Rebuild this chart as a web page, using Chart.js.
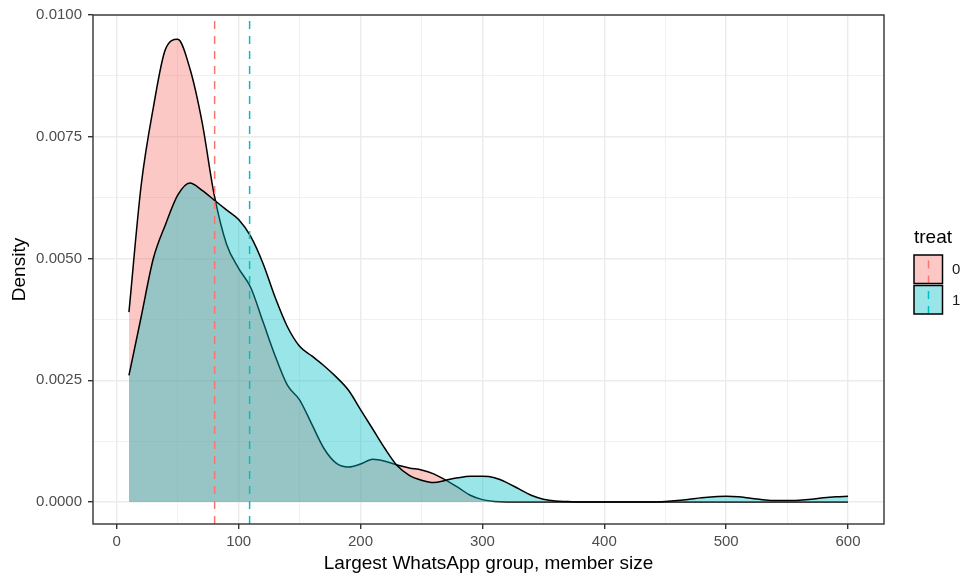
<!DOCTYPE html>
<html lang="en">
<head>
<meta charset="UTF-8">
<title>Density of largest WhatsApp group</title>
<script src="https://cdn.jsdelivr.net/npm/chart.js"></script>
<style>
    html, body { margin: 0; padding: 0; background: #fff; }
    #wrap { width: 964px; height: 575px; position: relative; }
</style>
</head>
<body>
<div id="wrap"><canvas id="densityChart"></canvas></div>
<script>
const sizes = [10, 20, 30, 40, 50, 60, 70, 80, 90, 100,
    110, 120, 130, 140, 150, 160, 170, 180, 190, 200,
    210, 220, 230, 240, 250, 260, 270, 280, 290, 300,
    310, 320, 330, 340, 350, 360, 370, 380, 390, 400,
    410, 420, 430, 440, 450, 460, 470, 480, 490, 500,
    510, 520, 530, 540, 550, 560, 570, 580, 590, 600];

// treat = 0
const densityTreat0 = [0.0039, 0.0065, 0.0081, 0.0093, 0.0095, 0.0089, 0.0078, 0.0063, 0.0053, 0.0048,
    0.0044, 0.0037, 0.0030, 0.0024, 0.0021, 0.0016, 0.0011, 0.0008, 0.00072, 0.00078,
    0.00088, 0.00084, 0.00076, 0.00070, 0.00066, 0.00058, 0.00045, 0.00030, 0.00014, 0.00005,
    0.00001, 0, 0, 0, 0, 0, 0, 0, 0, 0,
    0, 0, 0, 0, 0, 0, 0, 0, 0, 0,
    0, 0, 0, 0, 0, 0, 0, 0, 0, 0];

// treat = 1
const densityTreat1 = [0.0026, 0.0038, 0.0050, 0.0057, 0.0063, 0.00655, 0.0064, 0.0062, 0.0060, 0.0058,
    0.00545, 0.0049, 0.0042, 0.0036, 0.0032, 0.0030, 0.0028, 0.00257, 0.0023, 0.0019,
    0.0015, 0.0011, 0.00075, 0.00055, 0.00045, 0.00040, 0.00045, 0.00050, 0.00053, 0.00053,
    0.00050, 0.00040, 0.00027, 0.00014, 0.00006, 0.00002, 0.00001, 0, 0, 0,
    0, 0, 0, 0, 0.00001, 0.00003, 0.00006, 0.00009, 0.00011, 0.00012,
    0.00011, 0.00008, 0.00005, 0.00003, 0.00003, 0.00004, 0.00006, 0.00009, 0.00011, 0.00012];

// group means (dashed lines)
const groupLabels = ['0', '1'];
const groupMeans = [80.3, 109];

const xTicksMajor = [0, 100, 200, 300, 400, 500, 600];
const xTicksMinor = [50, 150, 250, 350, 450, 550];
const yTicksMajor = [0, 0.0025, 0.005, 0.0075, 0.01];
const yTicksMinor = [0.00125, 0.00375, 0.00625, 0.00875];

const xMin = -19.5, xMax = 629.5;
const yMin = -0.00045, yMax = 0.0100;

const colRed = '#F8766D', colTeal = '#00BFC4';
const fillRed = 'rgba(248,118,109,0.4)', fillTeal = 'rgba(0,191,196,0.4)';
const FONT = '"Liberation Sans", Arial, Helvetica, sans-serif';
const DASH = [8, 7];

const toPoints = (ys) => sizes.map((s, i) => ({ x: s, y: ys[i] }));
const vline = (m) => [{ x: m, y: yMin }, { x: m, y: yMax }];

const isMajor = (list, v) => list.some(t => Math.abs(t - v) < 1e-9);

const gridFor = (major) => ({
    color: '#EBEBEB',
    lineWidth: (c) => c.tick && isMajor(major, c.tick.value) ? 1.4 : 0.7,
    tickColor: (c) => c.tick && isMajor(major, c.tick.value) ? '#333333' : 'rgba(0,0,0,0)',
    tickWidth: 1.4,
    tickLength: 5,
    drawTicks: true
});

const frameAndLegend = {
    id: 'frameAndLegend',
    afterDraw(chart) {
        const { ctx, chartArea: a } = chart;
        ctx.save();
        ctx.strokeStyle = '#333333';
        ctx.lineWidth = 1.4;
        ctx.strokeRect(a.left, a.top, a.right - a.left, a.bottom - a.top);

        // legend
        ctx.fillStyle = '#000';
        ctx.font = '19px ' + FONT;
        ctx.textBaseline = 'middle';
        ctx.textAlign = 'left';
        ctx.fillText('treat', 914, 238);
        const fills = [fillRed, fillTeal], lines = [colRed, colTeal];
        groupLabels.forEach((lab, i) => {
            const top = 255 + i * 30.5;
            ctx.fillStyle = '#fff';
            ctx.fillRect(914, top, 28.5, 28.5);
            ctx.fillStyle = fills[i];
            ctx.fillRect(914, top, 28.5, 28.5);
            ctx.setLineDash(DASH);
            ctx.strokeStyle = lines[i];
            ctx.lineWidth = 1.5;
            ctx.beginPath();
            ctx.moveTo(928.5, top + 28.5);
            ctx.lineTo(928.5, top);
            ctx.stroke();
            ctx.setLineDash([]);
            ctx.strokeStyle = '#000';
            ctx.lineWidth = 1.5;
            ctx.strokeRect(914, top, 28.5, 28.5);
            ctx.fillStyle = '#1a1a1a';
            ctx.font = '15px ' + FONT;
            ctx.fillText(lab, 952, top + 15);
        });
        ctx.restore();
    }
};

new Chart(document.getElementById('densityChart'), {
    type: 'line',
    data: {
        datasets: [
            {
                label: 'mean 0', data: vline(groupMeans[0]), borderColor: colRed,
                borderWidth: 1.5, borderDash: DASH, pointRadius: 0, fill: false, order: 0
            },
            {
                label: 'mean 1', data: vline(groupMeans[1]), borderColor: colTeal,
                borderWidth: 1.5, borderDash: DASH, pointRadius: 0, fill: false, order: 0
            },
            {
                label: '1', data: toPoints(densityTreat1), borderColor: '#000',
                backgroundColor: fillTeal, borderWidth: 1.5, pointRadius: 0,
                fill: 'origin', tension: 0.4, cubicInterpolationMode: 'monotone', order: 1
            },
            {
                label: '0', data: toPoints(densityTreat0), borderColor: '#000',
                backgroundColor: fillRed, borderWidth: 1.5, pointRadius: 0,
                fill: 'origin', tension: 0.4, cubicInterpolationMode: 'monotone', order: 2
            }
        ]
    },
    options: {
        responsive: true,
        maintainAspectRatio: false,
        animation: false,
        layout: { padding: { top: 15, right: 80, left: 0, bottom: 0 } },
        plugins: { legend: { display: false }, tooltip: { enabled: false } },
        scales: {
            x: {
                type: 'linear', min: xMin, max: xMax,
                afterBuildTicks: (axis) => {
                    axis.ticks = xTicksMajor.concat(xTicksMinor).sort((a, b) => a - b).map(v => ({ value: v }));
                },
                afterFit: (axis) => { axis.height = 51; },
                grid: gridFor(xTicksMajor),
                border: { display: false },
                ticks: {
                    autoSkip: false, maxRotation: 0, padding: 4,
                    color: '#4D4D4D', font: { family: FONT, size: 15 },
                    callback: (v) => isMajor(xTicksMajor, v) ? String(v) : ''
                },
                title: {
                    display: true, text: 'Largest WhatsApp group, member size',
                    color: '#000', font: { family: FONT, size: 19 },
                    padding: { top: 0, bottom: 0 }
                }
            },
            y: {
                type: 'linear', min: yMin, max: yMax,
                afterBuildTicks: (axis) => {
                    axis.ticks = yTicksMajor.concat(yTicksMinor).sort((a, b) => a - b).map(v => ({ value: v }));
                },
                afterFit: (axis) => { axis.width = 93; },
                grid: gridFor(yTicksMajor),
                border: { display: false },
                ticks: {
                    autoSkip: false, padding: 6,
                    color: '#4D4D4D', font: { family: FONT, size: 15 },
                    callback: (v) => isMajor(yTicksMajor, v) ? v.toFixed(4) : ''
                },
                title: {
                    display: true, text: 'Density',
                    color: '#000', font: { family: FONT, size: 19 },
                    padding: { top: 8, bottom: 0 }
                }
            }
        }
    },
    plugins: [frameAndLegend]
});
</script>
</body>
</html>
